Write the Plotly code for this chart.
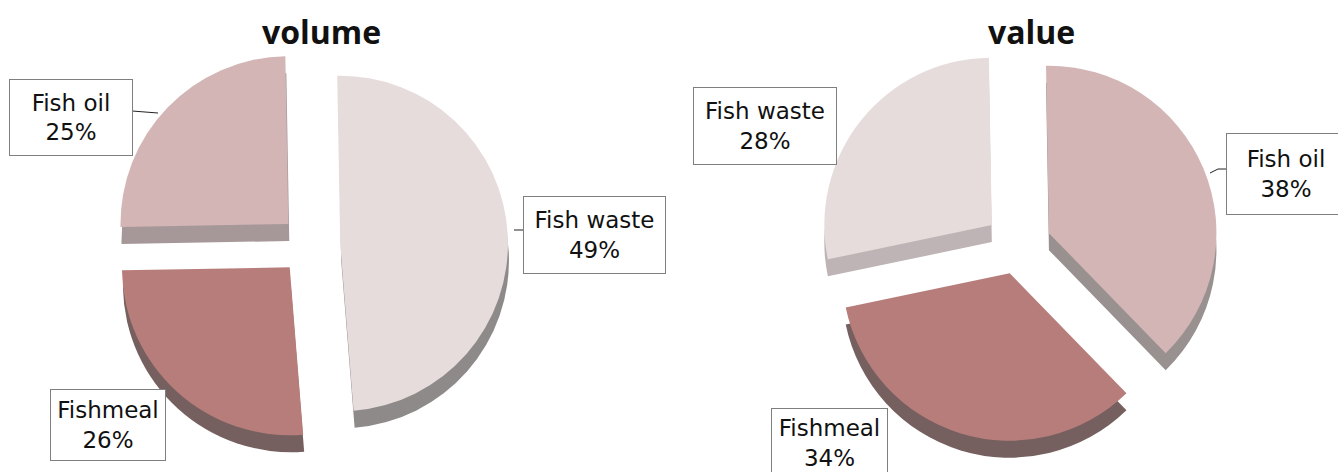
import plotly.graph_objects as go

W, H = 1338, 472
volume_labels = ["Fish waste", "Fishmeal", "Fish oil"]
volume_values = [49, 26, 25]
value_labels = ["Fish oil", "Fishmeal", "Fish waste"]
value_values = [38, 34, 28]
colors = {"Fish waste": "#e7dcdc", "Fish oil": "#d4b5b6", "Fishmeal": "#b77d7b"}
side = {"Fish waste": "#8f8a8a", "Fish oil": "#a69899", "Fishmeal": "#75605f"}
side_value = {"Fish waste": "#bfb4b5", "Fish oil": "#999090", "Fishmeal": "#75605f"}


def dom(x0, y0, x1, y1):
    return dict(x=[x0 / W, x1 / W], y=[1 - y1 / H, 1 - y0 / H])


def pie(labels, values, rotation, pull, domain, cols):
    return go.Pie(labels=labels, values=values, rotation=rotation, pull=pull, sort=False,
                  direction="clockwise", textinfo="none", hoverinfo="label+percent",
                  marker=dict(colors=cols, line=dict(width=0)), domain=domain, showlegend=False)


fig = go.Figure()
# left pie: extruded side, then top
fig.add_trace(pie(volume_labels, volume_values, -1, 0.18, dom(113, 64, 509, 460), [side[l] for l in volume_labels]))
fig.add_trace(pie(volume_labels, volume_values, -1, 0.18, dom(112, 47, 508, 443), [colors[l] for l in volume_labels]))
# right pie
value_pull = [0.2, 0.17, 0.2]
fig.add_trace(pie(value_labels, value_values, -1, value_pull, dom(817, 62, 1219, 464), [side_value[l] for l in value_labels]))
fig.add_trace(pie(value_labels, value_values, -1, value_pull, dom(817, 45, 1219, 447), [colors[l] for l in value_labels]))


def box(text, x0, y0, x1, y1):
    fig.add_annotation(text=text, x=(x0 + x1) / 2 / W, y=1 - (y0 + y1) / 2 / H, xref="paper", yref="paper",
                       xanchor="center", yanchor="middle", showarrow=False,
                       width=x1 - x0, height=y1 - y0, bgcolor="white", bordercolor="#7f7f7f", borderwidth=1,
                       borderpad=0, font=dict(family="DejaVu Sans", size=23, color="#111"), align="center",
                       valign="middle")


def leader(x0, y0, x1, y1):
    fig.add_shape(type="line", xref="paper", yref="paper", x0=x0 / W, y0=1 - y0 / H, x1=x1 / W, y1=1 - y1 / H,
                  line=dict(color="#222", width=1), layer="above")


leader(132, 111, 158, 113)
leader(514, 230, 524, 230)
leader(1210, 173, 1218, 169)
leader(1218, 169, 1227, 169)

box("Fish waste<br>49%", 524, 197, 665, 273)
box("Fish oil<br>25%", 10, 80, 132, 155)
box("Fishmeal<br>26%", 51, 390, 165, 460)
box("Fish waste<br>28%", 694, 88, 836, 164)
box("Fish oil<br>38%", 1227, 134, 1345, 214)
box("Fishmeal<br>34%", 772, 409, 887, 477)

for t, cx in [("volume", 321), ("value", 1031)]:
    fig.add_annotation(text=f"<b>{t}</b>", x=cx / W, y=1 - 31 / H, xref="paper", yref="paper", showarrow=False,
                       xanchor="center", yanchor="middle",
                       font=dict(family="Open Sans", size=32, color="#111"))

fig.update_layout(width=W, height=H, margin=dict(l=0, r=0, t=0, b=0), paper_bgcolor="white", plot_bgcolor="white")
fig.write_html("out.html", config={"displayModeBar": False},
               post_script="document.body.style.margin='0';document.documentElement.style.overflow='hidden';")
